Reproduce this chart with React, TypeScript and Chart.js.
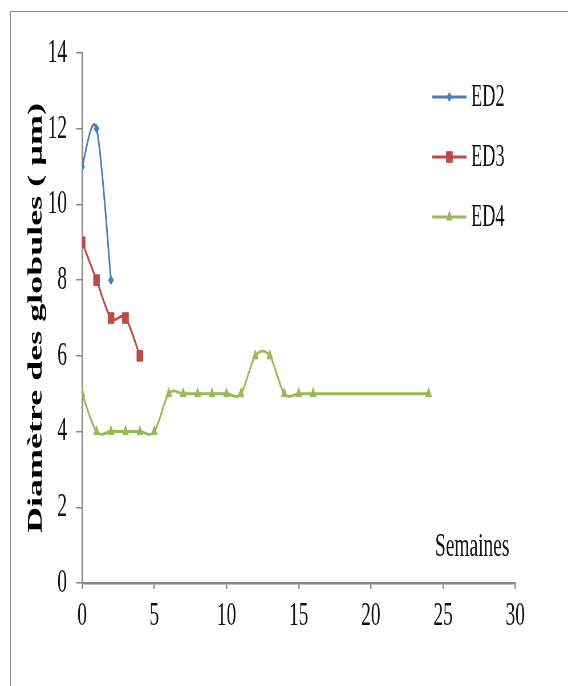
import React, { useEffect, useRef } from 'react';
import { Chart, registerables } from 'chart.js';

Chart.register(...registerables);

// ---- data ----
const seriesNames = ['ED2', 'ED3', 'ED4'];
const weeksED2 = [0, 1, 2];
const valuesED2 = [11, 12, 8];
const weeksED3 = [0, 1, 2, 3, 4];
const valuesED3 = [9, 8, 7, 7, 6];
const weeksED4 = [0, 1, 2, 3, 4, 5, 6, 7, 8, 9, 10, 11, 12, 13, 14, 15, 16, 24];
const valuesED4 = [5, 4, 4, 4, 4, 4, 5, 5, 5, 5, 5, 5, 6, 6, 5, 5, 5, 5];
const xTickValues = [0, 5, 10, 15, 20, 25, 30];
const yTickValues = [0, 2, 4, 6, 8, 10, 12, 14];
const yAxisTitle = 'Diamètre des globules ( µm)';
const xAxisTitle = 'Semaines';

// ---- styling ----
const FONT = "'Liberation Serif', 'Times New Roman', serif";
const SQUEEZE = 0.57; // the reference is horizontally compressed
const VIEW_W = 568;
const VIEW_H = 686;
const LOGICAL_W = Math.round(VIEW_W / SQUEEZE);
const COLORS = ['#4A7EBB', '#BE4B48', '#98B954'];
const STYLES = ['rectRot', 'rect', 'triangle'];
const RADII = [4.5, 7.5, 6];
const AXIS = '#868686';

function pts(xs: number[], ys: number[]) {
  return xs.map((x, i) => ({ x, y: ys[i] }));
}

function drawMarker(ctx: CanvasRenderingContext2D, style: string, x: number, y: number, r: number, color: string) {
  ctx.save();
  ctx.fillStyle = color;
  ctx.strokeStyle = color;
  ctx.lineWidth = 1;
  ctx.beginPath();
  if (style === 'rectRot') {
    ctx.moveTo(x - r, y);
    ctx.lineTo(x, y - r);
    ctx.lineTo(x + r, y);
    ctx.lineTo(x, y + r);
  } else if (style === 'rect') {
    const s = Math.SQRT1_2 * r;
    ctx.rect(x - s, y - s, 2 * s, 2 * s);
  } else {
    ctx.moveTo(x, y - r);
    ctx.lineTo(x + 0.866 * r, y + 0.5 * r);
    ctx.lineTo(x - 0.866 * r, y + 0.5 * r);
  }
  ctx.closePath();
  ctx.fill();
  ctx.stroke();
  ctx.restore();
}

// Excel-style smoothing: uniform Catmull-Rom control points on Chart.js' own point elements
const smoothPlugin = {
  id: 'excelSmooth',
  beforeDatasetDraw(chart: any, args: any) {
    const meta = chart.getDatasetMeta(args.index);
    const line = meta.dataset;
    if (!line) return;
    line.updateControlPoints(chart.chartArea, 'x');
    const p = meta.data;
    for (let i = 0; i < p.length; i++) {
      const a = p[Math.max(0, i - 1)];
      const b = p[Math.min(p.length - 1, i + 1)];
      const dx = (b.x - a.x) / 6;
      const dy = (b.y - a.y) / 6;
      p[i].cp1x = p[i].x - dx;
      p[i].cp1y = p[i].y - dy;
      p[i].cp2x = p[i].x + dx;
      p[i].cp2y = p[i].y + dy;
    }
  },
};

const LEGEND_X = 758;
const LEGEND_LINE_W = 60;
const LEGEND_TEXT_X = 826;
const LEGEND_ROWS = [97, 157, 217];

const extrasPlugin = {
  id: 'extras',
  afterDraw(chart: any) {
    const ctx: CanvasRenderingContext2D = chart.ctx;
    chart.data.datasets.forEach((ds: any, i: number) => {
      const y = LEGEND_ROWS[i];
      ctx.save();
      ctx.strokeStyle = ds.borderColor;
      ctx.lineWidth = 3;
      ctx.beginPath();
      ctx.moveTo(LEGEND_X, y);
      ctx.lineTo(LEGEND_X + LEGEND_LINE_W, y);
      ctx.stroke();
      drawMarker(ctx, ds.pointStyle, LEGEND_X + LEGEND_LINE_W / 2, y, ds.pointRadius, ds.borderColor);
      ctx.fillStyle = '#111';
      ctx.font = `32px ${FONT}`;
      ctx.textAlign = 'left';
      ctx.textBaseline = 'middle';
      ctx.fillText(ds.label, LEGEND_TEXT_X, y + 1);
      ctx.restore();
    });
    ctx.save();
    ctx.fillStyle = '#111';
    ctx.font = `34px ${FONT}`;
    ctx.textAlign = 'center';
    ctx.textBaseline = 'middle';
    ctx.fillText(xAxisTitle, 828, 547);
    ctx.restore();
  },
};

export default function App() {
  const ref = useRef<HTMLCanvasElement | null>(null);

  useEffect(() => {
    if (!ref.current) return;
    const series = [pts(weeksED2, valuesED2), pts(weeksED3, valuesED3), pts(weeksED4, valuesED4)];
    const chart = new Chart(ref.current, {
      type: 'line',
      data: {
        datasets: series.map((data, i) => ({
          label: seriesNames[i],
          data,
          borderColor: COLORS[i],
          backgroundColor: COLORS[i],
          pointBackgroundColor: COLORS[i],
          pointBorderColor: COLORS[i],
          pointBorderWidth: 1,
          pointStyle: STYLES[i],
          pointRadius: RADII[i],
          borderWidth: 2.9,
          tension: 0.33,
          fill: false,
        })),
      },
      options: {
        animation: false,
        responsive: false,
        devicePixelRatio: 1,
        layout: { padding: { left: 0, top: 53, right: LOGICAL_W - 903.5, bottom: 0 } },
        plugins: { legend: { display: false }, tooltip: { enabled: false } },
        scales: {
          x: {
            type: 'linear',
            position: 'bottom',
            min: 0,
            max: 30,
            afterBuildTicks: (s: any) => { s.ticks = xTickValues.map((v) => ({ value: v })); },
            ticks: { font: { size: 34, family: FONT }, color: '#111', padding: 7, maxRotation: 0, autoSkip: false },
            grid: { drawOnChartArea: false, drawTicks: true, tickLength: 6, color: AXIS, lineWidth: 2.5 },
            border: { color: AXIS, width: 2.5 },
            afterFit: (s: any) => { s.height = VIEW_H - 583; },
          },
          y: {
            type: 'linear',
            min: 0,
            max: 14,
            afterBuildTicks: (s: any) => { s.ticks = yTickValues.map((v) => ({ value: v })); },
            ticks: { font: { size: 34, family: FONT }, color: '#111', padding: 16 },
            grid: { drawOnChartArea: false, drawTicks: true, tickLength: 10.5, color: AXIS, lineWidth: 1.5 },
            border: { color: AXIS, width: 2.5 },
            title: {
              display: true,
              text: yAxisTitle,
              color: '#000',
              font: { size: 36, weight: 'bold', family: FONT },
              padding: { top: 42, bottom: 0 },
            },
            afterFit: (s: any) => { s.width = 144; },
          },
        },
      },
      plugins: [smoothPlugin, extrasPlugin],
    } as any);
    return () => chart.destroy();
  }, []);

  return (
    <div style={{ position: 'absolute', left: 0, top: 0, width: VIEW_W, height: VIEW_H, overflow: 'hidden', background: '#fff' }}>
      <div
        style={{
          position: 'absolute',
          left: 10,
          top: 11,
          width: 700,
          height: 800,
          borderLeft: '1.5px solid #8a8a8a',
          borderTop: '1.5px solid #8a8a8a',
        }}
      />
      <canvas
        ref={ref}
        width={LOGICAL_W}
        height={VIEW_H}
        style={{ position: 'absolute', left: 0, top: 0, width: VIEW_W + 'px', height: VIEW_H + 'px', display: 'block' }}
      />
    </div>
  );
}
